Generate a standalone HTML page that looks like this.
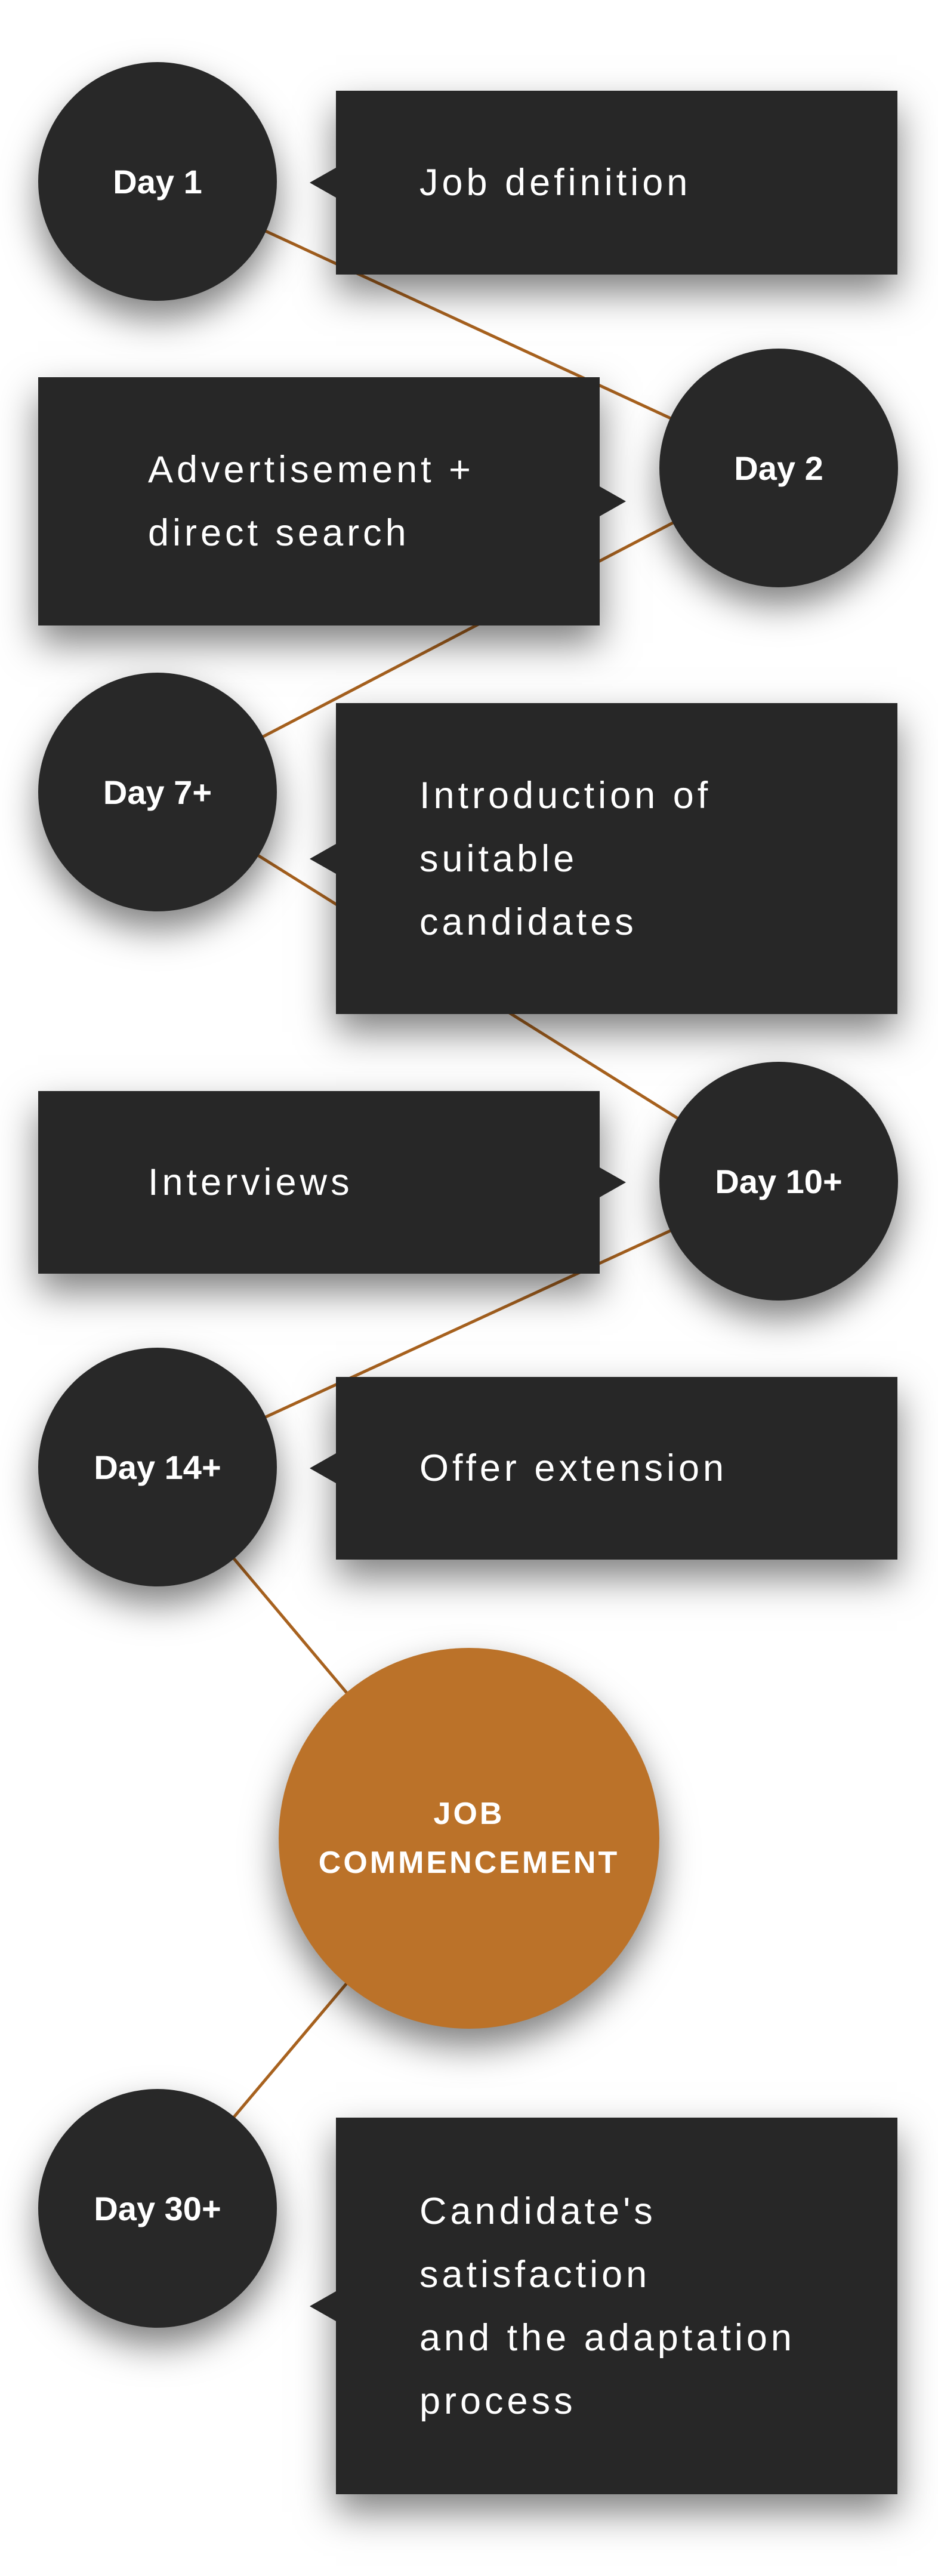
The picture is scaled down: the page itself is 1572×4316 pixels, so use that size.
<!DOCTYPE html>
<html><head><meta charset="utf-8"><style>
html,body{margin:0;padding:0;background:#fff;}
body{width:1572px;height:4316px;position:relative;overflow:hidden;font-family:"Liberation Sans",sans-serif;}
.c{position:absolute;border-radius:50%;background:#282828;color:#fff;display:flex;align-items:center;justify-content:center;font-weight:bold;font-size:56px;box-shadow:0 30px 60px rgba(0,0,0,.5);}
.b{position:absolute;background:#272727;color:#fff;box-shadow:0 30px 60px rgba(0,0,0,.5);display:flex;flex-direction:column;justify-content:center;font-size:63px;line-height:106px;letter-spacing:6px;}
.b.r{left:563px;width:941px;padding-left:140px;box-sizing:border-box;}
.b.l{left:64px;width:941px;padding-left:184px;box-sizing:border-box;}
.pl{position:absolute;left:-44px;top:50%;margin-top:-25px;width:0;height:0;border-top:25px solid transparent;border-bottom:25px solid transparent;border-right:44px solid #272727;}
.pr{position:absolute;right:-44px;top:50%;margin-top:-25px;width:0;height:0;border-top:25px solid transparent;border-bottom:25px solid transparent;border-left:44px solid #272727;}
svg{position:absolute;left:0;top:0;}
</style></head><body>
<svg width="1572" height="4316"><g stroke="#a8621f" stroke-width="5" fill="none">
<line x1="263" y1="303" x2="1304" y2="784"/>
<line x1="1304" y1="784" x2="263" y2="1327"/>
<line x1="263" y1="1327" x2="1304" y2="1979"/>
<line x1="1304" y1="1979" x2="263" y2="2458"/>
<line x1="263" y1="2458" x2="786" y2="3080"/>
<line x1="786" y1="3080" x2="263" y2="3700"/>
</g></svg>

<div class="b r" style="top:152px;height:308px;"><div class="pl"></div><div>Job definition</div></div>
<div class="c" style="left:64px;top:104px;width:400px;height:400px;">Day 1</div>

<div class="b l" style="top:632px;height:416px;"><div class="pr"></div><div>Advertisement +</div><div>direct search</div></div>
<div class="c" style="left:1105px;top:584px;width:400px;height:400px;">Day 2</div>

<div class="b r" style="top:1178px;height:521px;"><div class="pl"></div><div>Introduction of</div><div>suitable</div><div>candidates</div></div>
<div class="c" style="left:64px;top:1127px;width:400px;height:400px;">Day 7+</div>

<div class="b l" style="top:1828px;height:306px;"><div class="pr"></div><div>Interviews</div></div>
<div class="c" style="left:1105px;top:1779px;width:400px;height:400px;">Day 10+</div>

<div class="b r" style="top:2307px;height:306px;"><div class="pl"></div><div>Offer extension</div></div>
<div class="c" style="left:64px;top:2258px;width:400px;height:400px;">Day 14+</div>

<div class="c" style="left:467px;top:2761px;width:638px;height:638px;background:#bb7229;flex-direction:column;font-size:52px;line-height:82px;letter-spacing:4px;"><div>JOB</div><div>COMMENCEMENT</div></div>

<div class="b r" style="top:3548px;height:631px;"><div class="pl"></div><div>Candidate's</div><div>satisfaction</div><div>and the adaptation</div><div>process</div></div>
<div class="c" style="left:64px;top:3500px;width:400px;height:400px;">Day 30+</div>
</body></html>
